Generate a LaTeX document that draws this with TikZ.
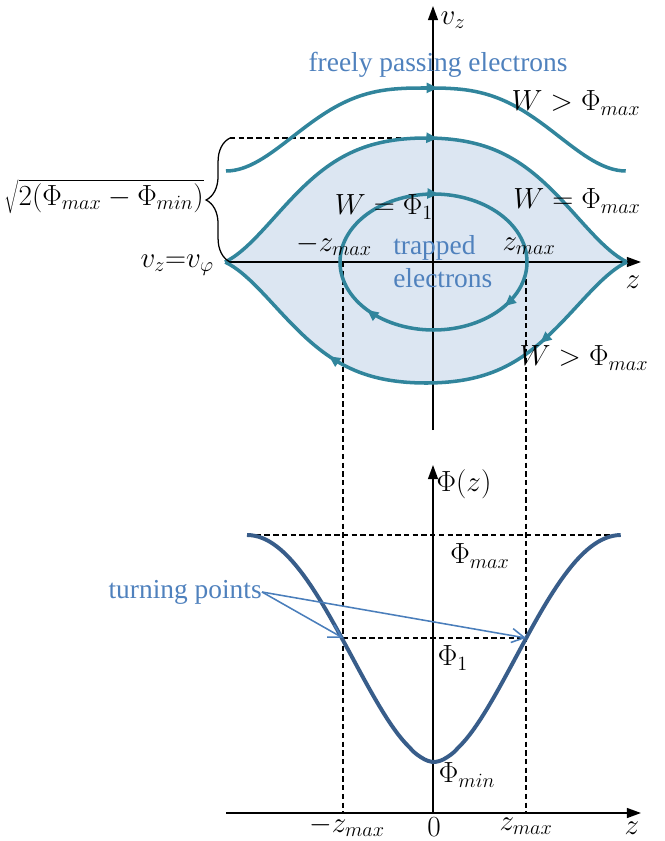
\documentclass[tikz,border=0pt]{standalone}
\usepackage{fontspec}
\setmainfont{Liberation Serif}
\usetikzlibrary{arrows.meta,decorations.markings,decorations.pathreplacing}

\definecolor{orbit}{RGB}{49,133,156}
\definecolor{trapfill}{RGB}{220,230,242}
\definecolor{labelblue}{RGB}{79,129,189}
\definecolor{potential}{RGB}{56,93,138}
\definecolor{pointer}{RGB}{74,126,187}

\begin{document}
\begin{tikzpicture}[x=0.025cm, y=-0.025cm, >={Triangle[length=8pt,width=7pt]},
  declare function={sepf(\s)=0.5*cos(90*\s)+0.25*(1+cos(180*abs(\s)^1.8));
                    freeh(\s)=0.5*(1-cos(180*abs(\s)^1.45));
                    potp(\s)=0.5*(1-cos(180*abs(\s)^0.9));},
  axis/.style={line width=1.2pt, -{Triangle[length=10pt,width=7pt]}},
  guide/.style={line width=0.9pt, dash pattern=on 3.8pt off 2.4pt},
  orbitline/.style={orbit, line width=2.5pt, line join=round, postaction={decorate}},
  txt/.style={labelblue, font=\fontsize{19.5}{23.5}\selectfont, inner sep=0pt},
  mth/.style={font=\fontsize{20}{24}\selectfont, inner sep=0pt}]
\useasboundingbox (0,0) rectangle (664,841);

% phase space: trapped region
\fill[trapfill] plot[domain=-1:1, samples=100] ({426+201*\x}, {262-124*sepf(\x)})
  -- plot[domain=1:-1, samples=100] ({426+201*\x}, {262+121*sepf(\x)}) -- cycle;

% axes
\draw[axis] (433,430) -- (433,6);
\draw[axis] (225,262) -- (641,262);
\draw[axis] (433,813) -- (433,465);
\draw[axis] (226,813) -- (641,813);

% guide lines
\draw[guide] (230,138) -- (433,138);
\draw[guide] (343,262) -- (343,813);
\draw[guide] (526,262) -- (526,813);
\draw[guide] (247,535) -- (621,535);
\draw[guide] (343,638) -- (526,638);

% orbits
\draw[orbitline, decoration={markings, mark=at position 0.527 with {\arrow{>}}}]
  plot[domain=-1:1, samples=100] ({426+200*\x}, {88+83*freeh(\x)});
\draw[orbitline, decoration={markings, mark=at position 0.524 with {\arrow{>}}}]
  plot[domain=-1:1, samples=100] ({426+201*\x}, {262-124*sepf(\x)});
\draw[orbitline, decoration={markings, mark=at position 0.245 with {\arrow{>}}, mark=at position 0.711 with {\arrow{>}}}]
  plot[domain=1:-1, samples=100] ({426+201*\x}, {262+121*sepf(\x)});
\draw[orbitline, decoration={markings, mark=at position 0.26 with {\arrow{>}}, mark=at position 0.6 with {\arrow{>}}, mark=at position 0.888 with {\arrow{>}}}]
  plot[domain=-180:180, samples=121] ({433.5+93.5*cos(\x)}, {262+68*sin(\x)});

% brace
\draw[decorate, decoration={brace, amplitude=17pt}, line width=0.9pt] (230,262) -- (230,138);

% potential
\draw[potential, line width=2.8pt, line join=round] plot[domain=-1:1, samples=100] ({434+187*\x}, {762-227*potp(\x)});

% labels, phase space
\node[mth] (vz) at (453,20) {$v_z$};
\node[txt] (free) at (438,65) {freely passing electrons};
\node[mth] (wabove) at (576,103) {$W > \Phi_{max}$};
\node[mth] (wsep) at (577,201) {$W = \Phi_{max}$};
\node[mth] (wone) at (384,207) {$W = \Phi_1$};
\node[mth] (zminus) at (334,245) {$-z_{max}$};
\node[mth] (zplus) at (529,246) {$z_{max}$};
\node[txt, align=left, anchor=west] (trapped) at (393,262) {trapped\\electrons};
\node[mth] (zaxis) at (633,282) {$z$};
\node[mth] (wbelow) at (584,358) {$W > \Phi_{max}$};
\node[mth, anchor=east] (gap) at (204,197) {$\sqrt{2(\Phi_{max}-\Phi_{min})}$};
\node[mth, anchor=east] (vphase) at (214,265) {$v_z{=}v_\varphi$};

% labels, potential
\node[mth] (phiz) at (464,484) {$\Phi(z)$};
\node[mth] (phimax) at (480,556) {$\Phi_{max}$};
\node[mth] (phione) at (453,658) {$\Phi_1$};
\node[mth] (phimin) at (467,775) {$\Phi_{min}$};
\node[mth] (zmlow) at (347,826) {$-z_{max}$};
\node[mth] (zero) at (434,827) {$0$};
\node[mth] (zplow) at (526,826) {$z_{max}$};
\node[mth] (zlow) at (632,828) {$z$};

% turning points
\node[txt, anchor=east] (turn) at (262,592) {turning points};
\coordinate (tpL) at (343,638);
\coordinate (tpR) at (526,638);
\draw[pointer, line width=1.1pt, -{Straight Barb[length=9pt,width=10pt]}] (turn.east) -- (tpL);
\draw[pointer, line width=1.1pt, -{Straight Barb[length=9pt,width=10pt]}] (turn.east) -- (tpR);
\end{tikzpicture}
\end{document}
